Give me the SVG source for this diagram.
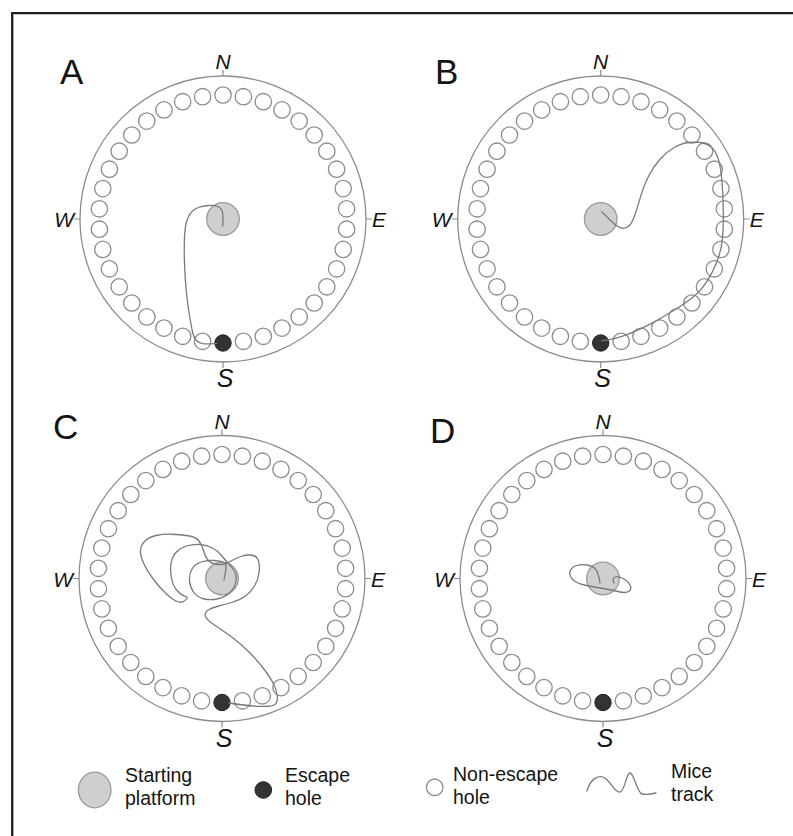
<svg xmlns="http://www.w3.org/2000/svg" width="793" height="836" viewBox="0 0 793 836">
<style>
.frame{stroke:#1e1e1e;stroke-width:2.3;fill:none}
.rim{fill:none;stroke:#8c8c8c;stroke-width:1.3}
.tick{stroke:#8c8c8c;stroke-width:1.2}
.hole{fill:#fff;stroke:#8c8c8c;stroke-width:1.3}
.esc{fill:#333;stroke:#222;stroke-width:1}
.plat{fill:#cfcfcf;stroke:#9a9a9a;stroke-width:1.3}
.track{fill:none;stroke:#7a7a7a;stroke-width:1.3;stroke-linecap:round;stroke-linejoin:round}
.dir{font-family:"Liberation Sans",Arial,sans-serif;font-style:italic;font-size:21px;fill:#141414}
.dirS{font-family:"Liberation Sans",Arial,sans-serif;font-style:italic;font-size:25px;fill:#141414}
.pl{font-family:"Liberation Sans",Arial,sans-serif;font-size:35px;fill:#141414}
.leg{font-family:"Liberation Sans",Arial,sans-serif;font-size:19.5px;fill:#141414}
</style>
<defs>
<g id="holes">
<circle class="hole" r="8.2" cx="20.4" cy="122.3"/><circle class="hole" r="8.2" cx="40.3" cy="117.3"/><circle class="hole" r="8.2" cx="59.0" cy="109.1"/><circle class="hole" r="8.2" cx="76.2" cy="97.9"/><circle class="hole" r="8.2" cx="91.2" cy="84.0"/><circle class="hole" r="8.2" cx="103.8" cy="67.8"/><circle class="hole" r="8.2" cx="113.6" cy="49.8"/><circle class="hole" r="8.2" cx="120.2" cy="30.4"/><circle class="hole" r="8.2" cx="123.6" cy="10.2"/><circle class="hole" r="8.2" cx="123.6" cy="-10.2"/><circle class="hole" r="8.2" cx="120.2" cy="-30.4"/><circle class="hole" r="8.2" cx="113.6" cy="-49.8"/><circle class="hole" r="8.2" cx="103.8" cy="-67.8"/><circle class="hole" r="8.2" cx="91.2" cy="-84.0"/><circle class="hole" r="8.2" cx="76.2" cy="-97.9"/><circle class="hole" r="8.2" cx="59.0" cy="-109.1"/><circle class="hole" r="8.2" cx="40.3" cy="-117.3"/><circle class="hole" r="8.2" cx="20.4" cy="-122.3"/>
<circle class="hole" r="8.2" cx="0" cy="-124"/>
<circle class="hole" r="8.2" cx="-20.4" cy="122.3"/><circle class="hole" r="8.2" cx="-40.3" cy="117.3"/><circle class="hole" r="8.2" cx="-59.0" cy="109.1"/><circle class="hole" r="8.2" cx="-76.2" cy="97.9"/><circle class="hole" r="8.2" cx="-91.2" cy="84.0"/><circle class="hole" r="8.2" cx="-103.8" cy="67.8"/><circle class="hole" r="8.2" cx="-113.6" cy="49.8"/><circle class="hole" r="8.2" cx="-120.2" cy="30.4"/><circle class="hole" r="8.2" cx="-123.6" cy="10.2"/><circle class="hole" r="8.2" cx="-123.6" cy="-10.2"/><circle class="hole" r="8.2" cx="-120.2" cy="-30.4"/><circle class="hole" r="8.2" cx="-113.6" cy="-49.8"/><circle class="hole" r="8.2" cx="-103.8" cy="-67.8"/><circle class="hole" r="8.2" cx="-91.2" cy="-84.0"/><circle class="hole" r="8.2" cx="-76.2" cy="-97.9"/><circle class="hole" r="8.2" cx="-59.0" cy="-109.1"/><circle class="hole" r="8.2" cx="-40.3" cy="-117.3"/><circle class="hole" r="8.2" cx="-20.4" cy="-122.3"/>
</g>
<g id="arena">
<circle class="rim" r="143" cx="0" cy="0"/>
<path class="tick" d="M0,-143V-149M0,143V149M-143,0H-149M143,0H149"/>
<use href="#holes"/>
<circle class="esc" r="8.2" cx="0" cy="124"/>
</g>
</defs>

<path class="frame" d="M12.2,836V13.2H793"/>

<g id="panelA">
<use href="#arena" transform="translate(223,219)"/>
<circle class="plat" cx="223" cy="219" r="16.3"/>
<text class="pl" x="60" y="84">A</text>
<text class="dir" x="223" y="69" text-anchor="middle">N</text>
<text class="dirS" x="225" y="387" text-anchor="middle">S</text>
<text class="dir" x="74" y="227" text-anchor="end">W</text>
<text class="dir" x="372" y="227">E</text>
</g>

<g id="panelB">
<use href="#arena" transform="translate(600.7,219)"/>
<circle class="plat" cx="600.7" cy="219" r="16.3"/>
<text class="pl" x="435" y="84">B</text>
<text class="dir" x="600.7" y="69" text-anchor="middle">N</text>
<text class="dirS" x="602.7" y="387" text-anchor="middle">S</text>
<text class="dir" x="451.7" y="227" text-anchor="end">W</text>
<text class="dir" x="749.7" y="227">E</text>
</g>

<g id="panelC">
<use href="#arena" transform="translate(222,578.5)"/>
<circle class="plat" cx="222" cy="578.5" r="16.3"/>
<text class="pl" x="53" y="439">C</text>
<text class="dir" x="222" y="428.5" text-anchor="middle">N</text>
<text class="dirS" x="224" y="746.5" text-anchor="middle">S</text>
<text class="dir" x="73" y="586.5" text-anchor="end">W</text>
<text class="dir" x="371" y="586.5">E</text>
</g>

<g id="panelD">
<use href="#arena" transform="translate(603,578.5)"/>
<circle class="plat" cx="603" cy="578.5" r="16.3"/>
<text class="pl" x="430" y="443">D</text>
<text class="dir" x="603" y="428.5" text-anchor="middle">N</text>
<text class="dirS" x="605" y="746.5" text-anchor="middle">S</text>
<text class="dir" x="454" y="586.5" text-anchor="end">W</text>
<text class="dir" x="752" y="586.5">E</text>
</g>

<g id="tracks">
<path class="track" d="M222.7,226 Q223.5,213 221.75,210 Q220,207 216.5,206 Q213,205 208,205.5 Q203,206 199,207.25 Q195,208.5 191.75,211.75 Q188.5,215 186.75,221 Q185,227 184.5,237 Q184,247 184.5,263.5 Q185,280 186.5,293.5 Q188,307 189.75,317 Q191.5,327 192.5,332 Q193.5,337 196,340 Q198.5,343 202.75,343.65 Q207,344.3 217,343.3"/>
<path class="track" d="M601.7,211.7 Q613.3,223.3 616.65,225.8 Q620,228.3 623.35,228.3 Q626.7,228.3 629.2,225.8 Q631.7,223.3 634.2,216.65 Q636.7,210 640,198.35 Q643.3,186.7 648.3,176.7 Q653.3,166.7 660,159.2 Q666.7,151.7 674.2,147.5 Q681.7,143.3 688.35,142.5 Q695,141.7 700.85,142.5 Q706.7,143.3 710.85,146.65 Q715,150 717.5,156.65 Q720,163.3 721.15,173.3 Q722.3,183.3 722.8,195 Q723.3,206.7 723.3,218.35 Q723.3,230 722.5,238.35 Q721.7,246.7 719.2,255 Q716.7,263.3 712.5,271.65 Q708.3,280 703.3,286.65 Q698.3,293.3 691.65,298.3 Q685,303.3 678.35,307.5 Q671.7,311.7 663.35,316.7 Q655,321.7 646.65,325.85 Q638.3,330 630,333.35 Q621.7,336.7 615,338.35 Q608.3,340 601.7,340.7"/>
<path class="track" d="M224,580 Q226,570 226,566.5 Q226,563 223,562 Q220,561 213.5,560.5 Q207,560 201,562 Q195,564 192,569 Q189,574 189.5,580.5 Q190,587 193.5,592 Q197,597 203.5,598.75 Q210,600.5 218,598.75 Q226,597 230.5,592 Q235,587 236,581 Q237,575 234,570.5 Q231,566 228,563 Q225,560 221.5,555.5 Q218,551 212.5,548 Q207,545 200,544.5 Q193,544 186.5,546 Q180,548 176,552.5 Q172,557 171,563.5 Q170,570 171.5,578 Q173,586 177,590.5 Q181,595 184.5,596 Q188,597 187,598.5 Q186,600 183.5,601.5 Q181,603 177,601.5 Q173,600 166.5,594 Q160,588 153.5,579.5 Q147,571 143.5,563 Q140,555 140.5,550 Q141,545 145,541 Q149,537 156,535.5 Q163,534 171.5,534.25 Q180,534.5 188,535.75 Q196,537 199,541 Q202,545 203.5,550.5 Q205,556 207.5,559.5 Q210,563 215,564 Q220,565 224,564 Q228,563 232,560.5 Q236,558 241.5,556.25 Q247,554.5 252,555.25 Q257,556 258.5,561 Q260,566 259,573 Q258,580 254.5,586 Q251,592 245.5,596 Q240,600 231.5,602.5 Q223,605 217,606.5 Q211,608 207.5,610.5 Q204,613 205.5,616.5 Q207,620 214.5,625 Q222,630 231,636.5 Q240,643 248.5,651.5 Q257,660 263.5,668.5 Q270,677 273.25,683.5 Q276.5,690 277.25,695 Q278,700 276.25,703 Q274.5,706 268.25,706.25 Q262,706.5 253.5,706 Q245,705.5 229,703"/>
<path class="track" d="M600,583 Q598.5,573 595.75,569.5 Q593,566 587,565 Q581,564 576,565.75 Q571,567.5 570,571.75 Q569,576 573,579.75 Q577,583.5 585.5,585.25 Q594,587 603,588.5 Q612,590 619,591.75 Q626,593.5 629,591.25 Q632,589 630,585 Q628,581 623,578.5 Q618,576 615,577 Q612,578 614,583"/>
</g>

<g id="legend">
<g id="leg-platform">
<ellipse class="plat" cx="94.7" cy="790" rx="16.3" ry="17.8"/>
<text class="leg" x="125" y="782">Starting</text>
<text class="leg" x="125" y="805">platform</text>
</g>
<g id="leg-escape">
<circle class="esc" cx="263.3" cy="790" r="8.3"/>
<text class="leg" x="285" y="782">Escape</text>
<text class="leg" x="285" y="805">hole</text>
</g>
<g id="leg-nonescape">
<circle class="hole" cx="434.7" cy="787.3" r="8.3"/>
<text class="leg" x="453" y="781">Non-escape</text>
<text class="leg" x="453" y="803.5">hole</text>
</g>
<g id="leg-track">
<path class="track" d="M587,791 C590,780 597,775 603,777 C610,779 614,793 620,792 C625,791 626,773 630,773 C634,773 637,793 642,794 C647,795 652,794 656,793"/>
<text class="leg" x="671" y="777.5">Mice</text>
<text class="leg" x="671" y="800.5">track</text>
</g>
</g>
</svg>
